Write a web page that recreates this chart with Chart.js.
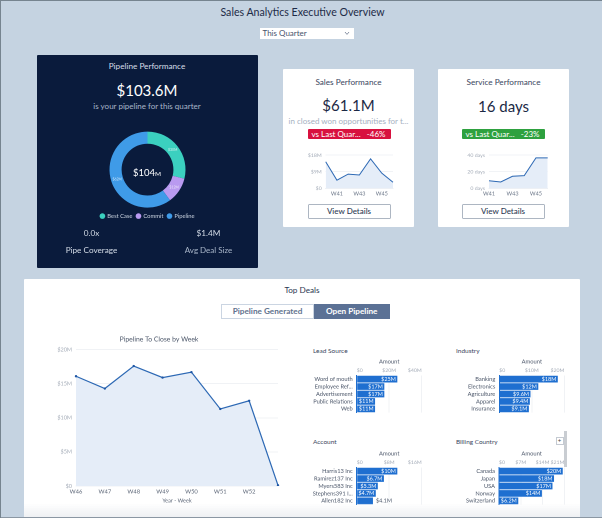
<!DOCTYPE html>
<html>
<head>
<meta charset="utf-8">
<title>Sales Analytics Executive Overview</title>
<script src="https://cdn.jsdelivr.net/npm/chart.js@4"></script>
<style>
html, body { margin: 0; padding: 0; background: #c5d3e1; }
body { width: 602px; height: 518px; overflow: hidden; position: relative; }
#page {
    position: absolute; left: 0; top: 0; width: 602px; height: 518px; overflow: hidden;
    background: #c5d3e1; font-family: Lato, sans-serif; color: #1f2d4a; filter: blur(0.35px);
}
.abs { position: absolute; }
.txt { position: absolute; white-space: nowrap; transform: translate(-50%, -50%); }
.txtl { position: absolute; white-space: nowrap; transform: translateY(-50%); }
canvas { position: absolute; }
.card { position: absolute; background: #fff; border-radius: 1px; }
.pill {
    position: absolute; height: 10px; width: 83px; border-radius: 1px; color: #fff;
    font-size: 8px; line-height: 10px; display: flex; justify-content: space-between;
    padding: 0 5px 0 4px; box-sizing: border-box;
}
.btn {
    position: absolute; width: 83px; height: 14.5px; box-sizing: border-box;
    border: 1px solid #adb6c2; border-radius: 1px; background: #fff; text-align: center;
    font-size: 8px; line-height: 12.5px; color: #2f3b55; font-weight: 500;
}
</style>
</head>
<body>
<div id="page">
<div class="abs" style="left:0;top:0;width:602px;height:1px;background:#76848f"></div>
<div class="abs" style="left:0;top:0;width:1px;height:518px;background:#76848f"></div>

<div class="txt" style="left:302.5px;top:11.5px;font-size:10.6px;color:#1d2b47">Sales Analytics Executive Overview</div>
<div class="abs" style="left:259.5px;top:28px;width:94.5px;height:11px;background:#fff;font-size:8px;line-height:11px;color:#47536b;text-indent:3px">This Quarter</div>
<svg class="abs" style="left:344px;top:31px" width="6" height="5"><path d="M1 1 L3 3.4 L5 1" fill="none" stroke="#8a94a6" stroke-width="1"/></svg>

<!-- pipeline card -->
<div class="abs" style="left:37px;top:55px;width:221px;height:213px;background:#0a1b3c;border-radius:1px"></div>
<div class="txt" style="left:147px;top:66px;font-size:8.2px;color:#d6dde8">Pipeline Performance</div>
<div class="txt" style="left:147px;top:89.5px;font-size:15px;color:#fff">$103.6M</div>
<div class="txt" style="left:147px;top:106px;font-size:8px;color:#a9b6c9">is your pipeline for this quarter</div>
<canvas id="donut" style="left:37px;top:125px;width:221px;height:104px"></canvas>
<div class="txt" style="left:147px;top:172px;font-size:9.5px;color:#fff">$104<span style="font-size:6.5px">M</span></div>
<div class="txt" style="left:91.5px;top:233px;font-size:8.2px;color:#d3dbe6">0.0x</div>
<div class="txt" style="left:208.5px;top:233px;font-size:8.2px;color:#d3dbe6">$1.4M</div>
<div class="txt" style="left:91.5px;top:250px;font-size:8.2px;color:#d3dbe6">Pipe Coverage</div>
<div class="txt" style="left:208.5px;top:250px;font-size:8px;color:#a9b6c9">Avg Deal Size</div>

<!-- sales card -->
<div class="card" style="left:283px;top:69px;width:131px;height:158px"></div>
<div class="txt" style="left:348.5px;top:81.5px;font-size:8.2px;color:#3a4660">Sales Performance</div>
<div class="txt" style="left:348.5px;top:104.5px;font-size:15px;color:#1b2945">$61.1M</div>
<div class="txt" style="left:348.5px;top:120.5px;font-size:8px;color:#a5b0bf">in closed won opportunities for t...</div>
<div class="pill" style="left:307.5px;top:129px;background:#d8113f"><span>vs Last Quar...</span><span>-46%</span></div>
<canvas id="salesLine" style="left:295px;top:148px;width:105px;height:52px"></canvas>
<div class="btn" style="left:307.5px;top:204px">View Details</div>

<!-- service card -->
<div class="card" style="left:438px;top:69px;width:131px;height:158px"></div>
<div class="txt" style="left:503.5px;top:81.5px;font-size:8.2px;color:#3a4660">Service Performance</div>
<div class="txt" style="left:503.5px;top:105.5px;font-size:15px;color:#1b2945">16 days</div>
<div class="pill" style="left:461.5px;top:129px;background:#2ea13f"><span>vs Last Quar...</span><span>-23%</span></div>
<canvas id="serviceLine" style="left:450px;top:148px;width:105px;height:52px"></canvas>
<div class="btn" style="left:461.5px;top:204px">View Details</div>

<!-- top deals -->
<div class="card" style="left:24px;top:279px;width:556px;height:239px"></div>
<div class="txt" style="left:302px;top:290px;font-size:8.2px;color:#2b3852">Top Deals</div>
<div class="abs" style="left:221px;top:304px;width:93px;height:15px;box-sizing:border-box;border:1px solid #cbd5e2;text-align:center;font-size:8.2px;line-height:13px;font-weight:700;color:#62728e">Pipeline Generated</div>
<div class="abs" style="left:314px;top:304px;width:75.5px;height:15px;background:#5b7195;text-align:center;font-size:8.2px;line-height:15px;font-weight:700;color:#fff">Open Pipeline</div>

<canvas id="pipelineLine" style="left:40px;top:334px;width:251px;height:170px"></canvas>

<div class="txtl" style="left:313px;top:349.5px;font-size:6.5px;color:#3a4660">Lead Source</div>
<canvas id="leadBars" style="left:305px;top:358px;width:125px;height:62px"></canvas>
<div class="txtl" style="left:456px;top:349.5px;font-size:6.5px;color:#3a4660">Industry</div>
<canvas id="industryBars" style="left:445px;top:358px;width:127px;height:62px"></canvas>
<div class="txtl" style="left:313px;top:441px;font-size:6.5px;color:#3a4660">Account</div>
<canvas id="accountBars" style="left:305px;top:450px;width:125px;height:62px"></canvas>
<div class="txtl" style="left:456px;top:441px;font-size:6.4px;color:#3a4660">Billing Country</div>
<canvas id="countryBars" style="left:445px;top:450px;width:127px;height:62px"></canvas>

<div class="abs" style="left:564px;top:431px;width:2.5px;height:36px;background:#c9cdd2"></div>
<div class="abs" style="left:555.5px;top:436.5px;width:8px;height:8px;box-sizing:border-box;border:1px solid #c4cad2;background:#fff;text-align:center;font-size:6px;line-height:6px;color:#444">+</div>
<div class="abs" style="left:24px;top:503px;width:556px;height:15px;background:linear-gradient(rgba(238,240,243,0),rgba(238,240,243,1))"></div>
<div class="abs" style="left:1px;top:516.5px;width:601px;height:1.5px;background:#8b97a3"></div>
</div>

<script>
Chart.defaults.font.family = 'Lato, sans-serif';
Chart.defaults.animation = false;
Chart.defaults.responsive = false;
Chart.defaults.devicePixelRatio = 2;

let donutLabels = ['Best Case', 'Commit', 'Pipeline'];
let donutValues = [30, 11.5, 62.5];
let donutText = ['$30M', '$12M', '$62M'];

let salesWeeks = ['W40', 'W41', 'W42', 'W43', 'W44', 'W45', 'W46'];
let salesValues = [14.4, 4.4, 7.7, 7.2, 16, 8.2, 3.3];
let serviceWeeks = ['W41', 'W42', 'W43', 'W44', 'W45', 'W46'];
let serviceValues = [9.1, 7.6, 14.5, 15.3, 36.7, 36.7];

let pipelineWeeks = ['W46', 'W47', 'W48', 'W49', 'W50', 'W51', 'W52', ''];
let pipelineValues = [16.1, 14.3, 17.6, 15.9, 16.7, 11.3, 12.5, 0.1];

let leadCats = ['Word of mouth', 'Employee Ref...', 'Advertisement', 'Public Relations', 'Web'];
let leadValues = [25, 17, 17, 11.3, 11.3];
let leadText = ['$25M', '$17M', '$17M', '$11M', '$11M'];
let leadTicks = ['$0', '$20M', '$40M'];

let industryCats = ['Banking', 'Electronics', 'Agriculture', 'Apparel', 'Insurance'];
let industryValues = [18, 12, 9.6, 9.4, 9.1];
let industryText = ['$18M', '$12M', '$9.6M', '$9.4M', '$9.1M'];
let industryTicks = ['$0', '$10M', '$20M'];

let accountCats = ['Harris13 Inc', 'Ramirez137 Inc', 'Myers583 Inc', 'Stephens391 I...', 'Allen182 Inc'];
let accountValues = [10, 6.7, 5.2, 4.7, 4];
let accountText = ['$10M', '$6.7M', '$5.3M', '$4.7M', '$4.1M'];
let accountTicks = ['$0', '$8M', '$16M'];

let countryCats = ['Canada', 'Japan', 'USA', 'Norway', 'Switzerland'];
let countryValues = [20.5, 17.7, 17.2, 13.8, 6.2];
let countryText = ['$20M', '$18M', '$17M', '$14M', '$6.2M'];
let countryTicks = ['$0', '$7M', '$14M', '$21M'];

const lineBlue = '#2c68b4';
const areaBlue = '#e5edf8';

function sizeCanvas(id) {
    let c = document.getElementById(id);
    c.width = parseFloat(c.style.width);
    c.height = parseFloat(c.style.height);
    return c.getContext('2d');
}

// value text on the doughnut slices
const sliceLabels = {
    id: 'sliceLabels',
    afterDatasetsDraw(chart) {
        let ctx = chart.ctx;
        ctx.save();
        ctx.font = '3.5px Lato';
        ctx.fillStyle = 'rgba(255,255,255,0.75)';
        ctx.textAlign = 'center';
        ctx.textBaseline = 'middle';
        chart.getDatasetMeta(0).data.forEach((arc, i) => {
            let p = arc.tooltipPosition();
            ctx.fillText(donutText[i], p.x, p.y);
        });
        ctx.restore();
    }
};

new Chart(sizeCanvas('donut'), {
    type: 'doughnut',
    data: {
        labels: donutLabels,
        datasets: [{
            data: donutValues,
            backgroundColor: ['#3bd0bf', '#b99af0', '#3f9be8'],
            borderWidth: 0
        }]
    },
    options: {
        radius: 38,
        cutout: 27,
        layout: { padding: { top: 5, bottom: 0 } },
        plugins: {
            tooltip: { enabled: false },
            legend: {
                position: 'bottom',
                labels: {
                    color: '#cfd8e4', font: { size: 5.8 }, usePointStyle: true, pointStyle: 'circle',
                    boxWidth: 4, boxHeight: 4, padding: 4
                }
            }
        }
    },
    plugins: [sliceLabels]
});

function miniLine(id, labels, values, max, step, left, right, top, bottom, fmt, showTick) {
    return new Chart(sizeCanvas(id), {
        type: 'line',
        data: {
            labels: labels,
            datasets: [{
                data: values, borderColor: lineBlue, borderWidth: 1, pointRadius: 0,
                fill: true, backgroundColor: areaBlue, tension: 0
            }]
        },
        options: {
            layout: { padding: { top: top, right: right } },
            plugins: { legend: { display: false }, tooltip: { enabled: false } },
            scales: {
                x: {
                    offset: false,
                    grid: { display: false, drawTicks: false },
                    border: { color: '#eef1f5' },
                    ticks: {
                        autoSkip: false, maxRotation: 0, padding: 2, color: '#6b7688', font: { size: 5.5 },
                        callback: function (v, i) { return showTick(i) ? labels[i] : ''; }
                    },
                    afterFit(s) { s.height = bottom; }
                },
                y: {
                    min: 0, max: max,
                    grid: { color: '#f1f3f6', drawTicks: false },
                    border: { display: false },
                    ticks: {
                        stepSize: step, padding: 4, color: '#a3abb7', font: { size: 5.2 },
                        callback: fmt
                    },
                    afterFit(s) { s.width = left; }
                }
            }
        }
    });
}

miniLine('salesLine', salesWeeks, salesValues, 18, 9, 30.7, 7, 3.7, 11.7,
    v => v === 0 ? '$0' : '$' + v + 'M', i => i % 2 === 1);
miniLine('serviceLine', serviceWeeks, serviceValues, 40, 20, 39, 7.3, 3.7, 11.7,
    v => v + ' days', i => i % 2 === 0);

new Chart(sizeCanvas('pipelineLine'), {
    type: 'line',
    data: {
        labels: pipelineWeeks,
        datasets: [{
            data: pipelineValues, borderColor: lineBlue, borderWidth: 1.2,
            pointRadius: 1.2, pointBackgroundColor: '#1f57a5', pointBorderWidth: 0,
            fill: true, backgroundColor: areaBlue, tension: 0
        }]
    },
    options: {
        layout: { padding: { right: 13 } },
        plugins: {
            legend: { display: false },
            tooltip: { enabled: false },
            title: {
                display: true, text: 'Pipeline To Close by Week', color: '#4a5568',
                font: { size: 6.8, weight: 'normal' }, padding: { top: 1, bottom: 6.5 }
            }
        },
        scales: {
            x: {
                offset: false,
                grid: { display: false, drawTicks: false },
                border: { color: '#eef1f5' },
                ticks: { autoSkip: false, maxRotation: 0, padding: 2, color: '#5d6778', font: { size: 5.8 } },
                title: { display: true, text: 'Year - Week', color: '#5d6778', font: { size: 5.5 }, padding: { top: 2, bottom: 0 } },
                afterFit(s) { s.height = 18; }
            },
            y: {
                min: 0, max: 20,
                grid: { color: '#f0f2f5', drawTicks: false },
                border: { display: false },
                ticks: {
                    stepSize: 5, padding: 4, color: '#a3abb7', font: { size: 5.5 },
                    callback: v => v === 0 ? '$0' : '$' + v + 'M'
                },
                afterFit(s) { s.width = 36; }
            }
        }
    }
});

// horizontal bar panel, text goes inside the bar when it fits
function barPanel(id, cats, values, text, ticks, max, left, right) {
    const barText = {
        id: 'barText',
        afterDatasetsDraw(chart) {
            let ctx = chart.ctx;
            ctx.save();
            ctx.font = '5.5px Lato';
            ctx.textBaseline = 'middle';
            chart.getDatasetMeta(0).data.forEach((bar, i) => {
                let w = ctx.measureText(text[i]).width;
                if (bar.x - chart.chartArea.left > w + 2.5) {
                    ctx.textAlign = 'right';
                    ctx.fillStyle = '#ffffff';
                    ctx.fillText(text[i], bar.x - 1.5, bar.y);
                } else {
                    ctx.textAlign = 'left';
                    ctx.fillStyle = '#4a5568';
                    ctx.fillText(text[i], bar.x + 3, bar.y);
                }
            });
            ctx.restore();
        }
    };
    return new Chart(sizeCanvas(id), {
        type: 'bar',
        data: {
            labels: cats,
            datasets: [{ data: values, backgroundColor: '#1f6fd0', barPercentage: 0.9, categoryPercentage: 1 }]
        },
        options: {
            indexAxis: 'y',
            layout: { padding: { right: right, bottom: 3.2 } },
            plugins: { legend: { display: false }, tooltip: { enabled: false } },
            scales: {
                x: {
                    position: 'top', min: 0, max: max,
                    grid: { color: '#f0f2f5', drawTicks: false },
                    border: { display: false },
                    title: { display: true, text: 'Amount', color: '#4a5568', font: { size: 5.8 }, padding: { top: 0, bottom: 0 } },
                    ticks: {
                        stepSize: max / (ticks.length - 1), align: 'inner', padding: 2, color: '#a3abb7', font: { size: 5.2 },
                        callback: (v, i) => ticks[i]
                    },
                    afterFit(s) { s.height = 17.4; }
                },
                y: {
                    grid: { display: false, drawTicks: false },
                    border: { color: '#1f6fd0' },
                    ticks: { autoSkip: false, padding: 4, color: '#4a5568', font: { size: 5.7 } },
                    afterFit(s) { s.width = left; }
                }
            }
        },
        plugins: [barText]
    });
}

barPanel('leadBars', leadCats, leadValues, leadText, leadTicks, 40, 51.7, 8.3);
barPanel('industryBars', industryCats, industryValues, industryText, industryTicks, 20, 54.3, 7.7);
barPanel('accountBars', accountCats, accountValues, accountText, accountTicks, 16, 51.7, 8.3);
barPanel('countryBars', countryCats, countryValues, countryText, countryTicks, 21, 54, 7.7);
</script>
</body>
</html>
